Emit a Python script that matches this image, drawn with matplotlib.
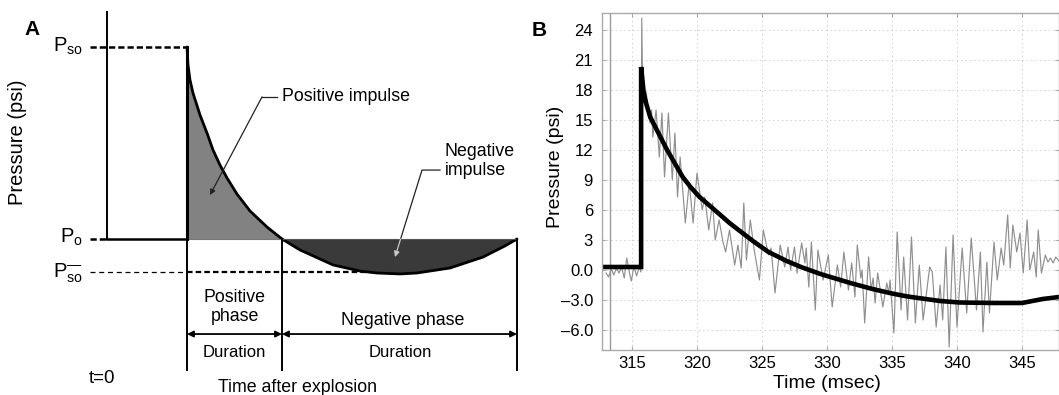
import matplotlib
matplotlib.use("Agg")
import matplotlib.pyplot as plt

plt.rcParams['font.family'] = ['Liberation Sans', 'DejaVu Sans']
plt.rcParams['mathtext.fontset'] = 'custom'
plt.rcParams['mathtext.rm'] = 'Liberation Sans'
plt.rcParams['mathtext.it'] = 'Liberation Sans:italic'

# ---------------- Panel A (schematic) data ----------------
# schematic time units and pressure (P_so = 1, P_o = 0)
a_pos_t = [8.0, 8.1, 8.3, 8.6, 9.3, 10.0, 10.6, 11.3, 12.0, 13.0, 14.3, 16.0, 17.5]
a_pos_p = [1.0, 0.906, 0.828, 0.760, 0.646, 0.552, 0.464, 0.385, 0.318, 0.234, 0.146, 0.0625, 0.0]
a_neg_t = [17.5, 19.3, 22.6, 25.3, 27.0, 29.3, 31.0, 34.3, 37.6, 39.8, 41.0]
a_neg_p = [0.0, -0.057, -0.135, -0.167, -0.177, -0.182, -0.177, -0.151, -0.094, -0.036, 0.0]
a_levels = {'Pso': 1.0, 'Po': 0.0, 'Psom': -0.172}
a_times = {'arrival': 8.0, 'pos_end': 17.5, 'neg_end': 41.0}

# ---------------- Panel B data ----------------
fit_t = [312.7, 315.7, 315.7, 315.9, 316.1, 316.4, 317.7, 318.9, 319.5, 320.2, 321.8, 322.5,
         323.3, 324.3, 325.5, 326.9, 328.0, 329.5, 331.8, 333.5, 335.0, 336.2, 338.7, 340.2,
         343.0, 345.0, 346.6, 347.85]
fit_p = [0.3, 0.3, 20.3, 17.7, 16.6, 15.3, 12.0, 9.3, 8.3, 7.3, 5.5, 4.7,
         3.9, 2.9, 1.8, 0.9, 0.3, -0.4, -1.3, -1.9, -2.35, -2.65, -3.1, -3.25,
         -3.3, -3.3, -2.9, -2.7]

raw_t = [313.0, 313.2, 313.4, 313.6, 313.8, 314.0, 314.2, 314.4, 314.6, 314.8, 314.95, 315.15,
         315.35, 315.55, 315.68, 315.75, 315.82, 315.9, 316.0, 316.1, 316.25, 316.4, 316.5, 316.6,
         316.85, 317.1, 317.3, 317.5, 317.8, 318.1, 318.3, 318.5, 318.7, 319.1, 319.4, 319.7,
         320.0, 320.4, 320.6, 320.9, 321.2, 321.4, 321.7, 322.0, 322.2, 322.5, 322.9, 323.15,
         323.4, 323.6, 323.8, 324.1, 324.4, 324.8, 325.1, 325.5, 325.7, 326.0, 326.4, 326.75,
         327.0, 327.2, 327.5, 327.7, 328.05, 328.3, 328.4, 328.6, 328.8, 329.1, 329.3, 329.7,
         330.1, 330.4, 330.8, 331.05, 331.3, 331.65, 331.9, 332.15, 332.33, 332.6, 332.7, 332.9,
         333.2, 333.4, 333.55, 333.7, 333.9, 334.3, 334.6, 334.75, 334.85, 335.15, 335.4, 335.7,
         335.9, 336.2, 336.5, 336.8, 337.1, 337.4, 337.9, 338.1, 338.4, 338.7, 338.9, 339.15,
         339.4, 339.7, 340.0, 340.4, 340.75, 341.1, 341.5, 341.8, 342.0, 342.3, 342.5, 342.85,
         343.1, 343.4, 343.6, 343.9, 344.1, 344.3, 344.6, 344.85, 345.1, 345.4, 345.6, 345.9,
         346.1, 346.25, 346.5, 346.8, 347.0, 347.2, 347.4, 347.6, 347.85]
raw_p = [-0.3, -0.7, 0.1, -0.5, 0.2, -0.3, 0.3, -0.8, 1.2, -0.3, -1.1, 0.4,
         -0.6, 0.3, -0.2, 25.2, 17.5, 19.0, 16.8, 17.8, 15.5, 14.7, 16.0, 13.3,
         16.0, 11.3, 15.7, 9.3, 15.7, 9.0, 13.7, 7.3, 11.3, 4.7, 8.7, 4.7,
         9.7, 6.0, 7.3, 4.0, 6.7, 3.0, 5.0, 2.8, 1.8, 4.0, 0.5, 2.5,
         0.2, 6.7, 1.0, 5.0, 2.0, -1.0, 4.0, 1.5, 2.2, -2.3, 2.5, 0.3,
         2.3, 0.0, 2.3, -0.3, 2.7, 0.7, 2.2, -1.7, 2.8, -4.0, 2.0, -1.0,
         1.5, -3.7, 0.5, -1.7, 1.8, -2.0, 0.7, -2.7, 2.5, -0.8, 0.0, -5.3,
         1.3, -2.0, -0.8, -3.3, -0.3, -3.7, -1.3, -2.3, -1.0, -6.3, 3.8, -4.0,
         1.3, -5.0, 3.3, -5.3, 0.5, -5.0, 0.3, -0.2, -5.7, -1.5, -5.0, 2.3,
         -7.7, 3.5, -5.7, 2.2, -4.3, 3.2, -4.0, 1.8, -6.2, 0.8, -4.3, 2.8,
         -1.0, 2.2, 0.5, 5.5, 0.2, 4.5, 1.8, 3.7, -0.3, 5.0, 0.0, 1.8,
         -0.7, 4.0, -0.3, 1.5, 0.8, 1.2, 0.7, 1.3, 0.9]
cursor_t = 313.3

b_xticks = [315, 320, 325, 330, 335, 340, 345]
b_yticks = [-6, -3, 0, 3, 6, 9, 12, 15, 18, 21, 24]
b_ylabels = ['\u20136.0', '\u20133.0', '0.0', '3', '6', '9', '12', '15', '18', '21', '24']

W, H = 1059, 395
fig = plt.figure(figsize=(W / 100, H / 100), dpi=100)

# ================= Panel A =================
axA = fig.add_axes([0, 0, 530 / W, 1])
axA.set_xlim(-10.7, 42.3)
axA.set_ylim(-0.8125, 1.2448)
axA.axis('off')

Pso, Po, Psom = a_levels['Pso'], a_levels['Po'], a_levels['Psom']
ta, tp, tn = a_times['arrival'], a_times['pos_end'], a_times['neg_end']

axA.fill_between(a_pos_t, a_pos_p, Po, color='#828282', lw=0)
axA.fill_between(a_neg_t, a_neg_p, Po, color='#3a3a3a', lw=0)
axA.plot(a_pos_t, a_pos_p, color='black', lw=2.0, solid_capstyle='round')
axA.plot(a_neg_t, a_neg_p, color='black', lw=2.0, solid_capstyle='round')
axA.plot([tp, tn], [Po, Po], color='#555555', lw=0.8)
axA.plot([ta, tp], [Po, Po], color='#777777', lw=0.8)

# pressure axis
axA.plot([0, 0], [Po, 1.182], color='black', lw=1.4)
axA.plot([0, ta], [Po, Po], color='black', lw=1.8)
axA.plot([ta, ta], [Po, Pso], color='black', lw=2.2)

# dashed level lines
axA.plot([-1.7, ta], [Pso, Pso], color='black', lw=1.8, dashes=(2.5, 1.2))
axA.plot([-1.7, 0], [Po, Po], color='black', lw=1.8, dashes=(2.5, 1.2))
axA.plot([-1.7, ta], [Psom, Psom], color='black', lw=0.9, dashes=(4, 3))
axA.plot([ta, 26.3], [Psom, Psom], color='black', lw=1.6, dashes=(2.5, 1.4))

# phase boundary lines
vbot = -0.682
for tv in (ta, tp, tn):
    axA.plot([tv, tv], [vbot, Po], color='black', lw=1.4)

# duration arrows
ya = -0.495
for (x0, x1) in ((ta, tp), (tp, tn)):
    axA.annotate('', xy=(x1, ya), xytext=(x0, ya),
                 arrowprops=dict(arrowstyle='<|-|>', color='black', lw=1.3,
                                 mutation_scale=9, shrinkA=0, shrinkB=0))

fs = 12.8
axA.text((ta + tp) / 2, -0.354, 'Positive\nphase', ha='center', va='center',
         fontsize=fs, linespacing=1.15)
axA.text((ta + tp) / 2, -0.589, 'Duration', ha='center', va='center', fontsize=12)
axA.text(29.6, -0.422, 'Negative phase', ha='center', va='center', fontsize=fs)
axA.text(29.3, -0.589, 'Duration', ha='center', va='center', fontsize=12)
axA.text(-0.5, -0.724, 't=0', ha='center', va='center', fontsize=13.5)
axA.text(19.1, -0.771, 'Time after explosion', ha='center', va='center', fontsize=fs)
axA.text(-8.9, 0.505, 'Pressure (psi)', ha='center', va='center', rotation=90, fontsize=14.5)
axA.text(-7.5, 1.089, 'A', ha='center', va='center', fontsize=15, fontweight='bold')

axA.text(-2.4, 0.974, r'$\mathregular{P_{so}}$', ha='right', va='baseline', fontsize=14.5)
axA.text(-2.4, -0.021, r'$\mathregular{P_{o}}$', ha='right', va='baseline', fontsize=14.5)
axA.text(-2.4, -0.198, r'$\mathregular{P_{so}^{—}}$', ha='right', va='baseline', fontsize=14.5)

# impulse labels with leader arrows
axA.text(17.5, 0.74, 'Positive impulse', ha='left', va='center', fontsize=fs)
axA.plot([17.0, 15.5], [0.74, 0.74], color='#222222', lw=0.9)
axA.annotate('', xy=(10.3, 0.229), xytext=(15.5, 0.74),
             arrowprops=dict(arrowstyle='-|>', color='#222222', lw=0.9,
                             mutation_scale=8, shrinkA=0, shrinkB=0))
axA.text(33.8, 0.406, 'Negative\nimpulse', ha='left', va='center', fontsize=fs,
         linespacing=1.1)
# leader: dark above the fill, light inside the dark fill
neg_knee = (31.5, 0.359)
neg_tip = (28.8, -0.094)
frac = (neg_knee[1] - Po) / (neg_knee[1] - neg_tip[1])
neg_mid = (neg_knee[0] + frac * (neg_tip[0] - neg_knee[0]), Po)
axA.plot([33.3, neg_knee[0], neg_mid[0]], [neg_knee[1], neg_knee[1], neg_mid[1]],
         color='#222222', lw=0.9)
axA.annotate('', xy=neg_tip, xytext=neg_mid,
             arrowprops=dict(arrowstyle='-|>', color='#c8c8c8', lw=0.9,
                             mutation_scale=8, shrinkA=0, shrinkB=0))

# ================= Panel B =================
axB = fig.add_axes([602 / W, (H - 350) / H, (W - 602) / W, (350 - 13) / H])
axB.set_xlim(312.69, 347.85)
axB.set_ylim(-8.0, 25.7)
axB.grid(True, color='#d0d0d0', lw=0.7, linestyle=(0, (1.5, 3)))
axB.set_axisbelow(True)
axB.axvline(cursor_t, color='#999999', lw=1.0)
axB.plot(raw_t, raw_p, color='#8f8f8f', lw=0.85)
axB.plot(fit_t, fit_p, color='black', lw=3.3, solid_joinstyle='miter')
axB.set_xticks(b_xticks)
axB.set_yticks(b_yticks)
axB.set_yticklabels(b_ylabels)
axB.tick_params(direction='in', length=3, color='#aaaaaa', labelsize=12,
                top=True, right=True)
axB.tick_params(axis='y', pad=6.5)
axB.tick_params(axis='x', pad=4)
for s in axB.spines.values():
    s.set_color('#aaaaaa')
    s.set_linewidth(1.0)

fig.text(555 / W, 1 - 167 / H, 'Pressure (psi)', rotation=90, ha='center', va='center',
         fontsize=14)
fig.text(827 / W, 1 - 383 / H, 'Time (msec)', ha='center', va='center', fontsize=14)
fig.text(539 / W, 1 - 30 / H, 'B', ha='center', va='center', fontsize=15, fontweight='bold')

fig.savefig('out.png', dpi=100)
